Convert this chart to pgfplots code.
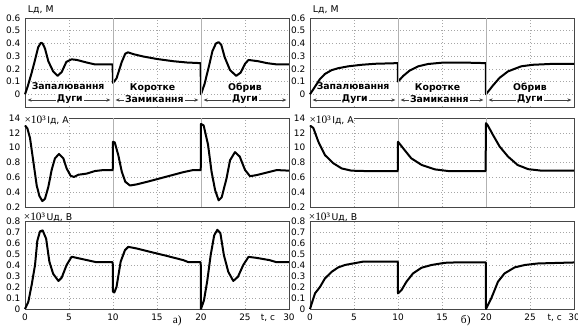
\documentclass[border=0pt]{standalone}
\usepackage{fontspec}
\setmainfont{DejaVu Sans}
\newfontfamily\serif{Liberation Serif}
\usepackage{pgfplots}
\pgfplotsset{compat=1.18}
\usetikzlibrary{arrows.meta}
\tikzset{
  curve/.style={black, line width=1.5pt, line join=round},
  sep/.style={gray!60, line width=0.5pt},
  arr/.style={{Stealth[length=3pt,width=2.6pt]}-{Stealth[length=3pt,width=2.6pt]}, gray!50!black, line width=0.6pt},
  lab/.style={font=\bfseries\fontsize{7}{8}\selectfont, inner sep=0.8pt},
}
\newcommand{\mult}{{\serif\fontsize{8.5}{9}\selectfont ×10³}}
\pgfplotsset{
  panel/.style={scale only axis, width=198pt, xmin=0, xmax=30, xtick={0,5,...,30},
    grid=major, major grid style={dotted, gray!70, line width=0.5pt},
    axis line style={gray!55!black, line width=0.5pt},
    tick style={draw=none},
    tick label style={font=\fontsize{6.7}{7}\selectfont},
    /pgf/number format/assume math mode=true,
    /pgf/number format/.cd, fixed, precision=1, /pgfplots/.cd,
    clip=false},
  row1/.style={panel, height=66.75pt, ymin=-0.1, ymax=0.6, ytick={0,0.1,...,0.6}, xticklabels={}},
  row2/.style={panel, height=66.75pt, ymin=0.2, ymax=1.4, ytick={0.2,0.4,0.6,0.8,1.0,1.2,1.4},
    yticklabels={0.2,0.4,0.6,0.8,10,12,14}, xticklabels={}},
  row3/.style={panel, height=66pt, ymin=0, ymax=0.8, ytick={0,0.1,...,0.8}},
}
\newcommand{\annot}{%
  \draw[sep] (axis cs:10,-0.1) -- (axis cs:10,0.6);
  \draw[sep] (axis cs:20,-0.1) -- (axis cs:20,0.6);
  \draw[arr] (axis cs:0.3,-0.045) -- (axis cs:9.7,-0.045);
  \draw[arr] (axis cs:10.3,-0.045) -- (axis cs:19.7,-0.045);
  \draw[arr] (axis cs:20.3,-0.045) -- (axis cs:29.7,-0.045);
  \node[lab] at (axis cs:4.9,0.065) {Запалювання};
  \node[lab, fill=white] at (axis cs:5.1,-0.04) {Дуги};
  \node[lab] at (axis cs:14.5,0.05) {Коротке};
  \node[lab, fill=white] at (axis cs:14.7,-0.04) {Замикання};
  \node[lab] at (axis cs:25,0.05) {Обрив};
  \node[lab, fill=white] at (axis cs:25,-0.04) {Дуги};
  \node[anchor=west, font=\fontsize{7}{8}\selectfont, inner sep=0pt] at ([xshift=2pt, yshift=6pt]rel axis cs:0,1) {Lд, М};
}
\begin{document}
\begin{tikzpicture}
\useasboundingbox (0,0) rectangle (433.5pt,243.75pt);
% Row 1 left
\begin{axis}[row1, at={(18.75pt,163.5pt)}, anchor=south west]
\addplot[curve] coordinates {(0,0) (0.3,0.06) (0.76,0.17) (1.14,0.27) (1.5,0.37) (1.8,0.405) (2.0,0.40) (2.27,0.36) (2.65,0.26) (3.2,0.18) (3.7,0.145) (4.17,0.175) (4.7,0.255) (5.3,0.275) (5.9,0.27) (7,0.25) (7.95,0.235) (9.95,0.235) (10,0.09) (10.4,0.125) (11,0.255) (11.4,0.32) (11.7,0.33) (12.3,0.316) (13.45,0.297) (14.96,0.278) (16.86,0.26) (18.4,0.25) (19.95,0.245) (20,0) (20.4,0.08) (20.9,0.22) (21.3,0.34) (21.7,0.40) (22.0,0.41) (22.3,0.39) (22.7,0.29) (23.3,0.19) (24.0,0.145) (24.5,0.17) (25.0,0.24) (25.4,0.27) (26.5,0.26) (27.5,0.245) (28.6,0.235) (30,0.235)};
\annot
\end{axis}
% Row 1 right
\begin{axis}[row1, at={(232.5pt,163.5pt)}, anchor=south west]
\addplot[curve] coordinates {(0,0) (0.57,0.06) (1.13,0.12) (1.7,0.16) (2.46,0.19) (3.2,0.205) (4.35,0.22) (5.86,0.232) (7.4,0.24) (9.98,0.245) (10,0.10) (10.6,0.145) (11.3,0.185) (12.3,0.22) (13.4,0.238) (14.9,0.248) (17.2,0.25) (19.98,0.245) (20,0) (20.8,0.07) (21.55,0.13) (22.5,0.18) (23.25,0.2) (24,0.22) (25.3,0.232) (27.8,0.24) (30,0.24)};
\annot
\end{axis}
% Row 2 left
\begin{axis}[row2, at={(18.75pt,88.5pt)}, anchor=south west]
\draw[sep] (axis cs:10,0.2) -- (axis cs:10,1.4);
\draw[sep] (axis cs:20,0.2) -- (axis cs:20,1.4);
\addplot[curve] coordinates {(0,1.3) (0.27,1.26) (0.57,1.13) (0.95,0.81) (1.33,0.49) (1.63,0.35) (1.97,0.28) (2.27,0.31) (2.65,0.47) (3.03,0.70) (3.4,0.855) (3.86,0.915) (4.36,0.855) (4.73,0.72) (5.19,0.62) (5.57,0.605) (6.06,0.635) (7,0.65) (7.95,0.685) (8.9,0.698) (9.97,0.698) (10,1.08) (10.2,1.07) (10.6,0.9) (11,0.675) (11.4,0.54) (11.93,0.49) (12.7,0.505) (14.2,0.55) (16.1,0.61) (18,0.67) (19.1,0.698) (19.97,0.698) (20,1.32) (20.3,1.3) (20.8,1.04) (21.2,0.675) (21.6,0.43) (22,0.29) (22.35,0.33) (22.9,0.585) (23.3,0.83) (23.86,0.94) (24.4,0.88) (25,0.70) (25.57,0.615) (26.3,0.63) (27.5,0.665) (28.6,0.698) (30,0.69)};
\node[anchor=west, fill=white, font=\fontsize{7}{8}\selectfont, inner sep=0.5pt] at ([xshift=-1pt, yshift=-1.5pt]rel axis cs:0,1) {\mult\,Iд, А};
\end{axis}
% Row 2 right
\begin{axis}[row2, at={(232.5pt,88.5pt)}, anchor=south west]
\draw[sep] (axis cs:10,0.2) -- (axis cs:10,1.4);
\draw[sep] (axis cs:20,0.2) -- (axis cs:20,1.4);
\addplot[curve] coordinates {(0,1.3) (0.38,1.265) (0.95,1.08) (1.7,0.9) (2.65,0.79) (3.6,0.72) (4.7,0.69) (6.2,0.685) (9.97,0.685) (10,1.08) (10.6,0.99) (11.5,0.857) (12.7,0.766) (14.2,0.707) (15.7,0.685) (19.95,0.685) (20,1.33) (20.2,1.3) (20.8,1.17) (21.55,1.015) (22.5,0.88) (23.6,0.766) (24.8,0.71) (26.3,0.69) (30,0.69)};
\node[anchor=west, fill=white, font=\fontsize{7}{8}\selectfont, inner sep=0.5pt] at ([xshift=-1pt, yshift=-1.5pt]rel axis cs:0,1) {\mult\,Iд, А};
\end{axis}
% Row 3 left
\begin{axis}[row3, at={(18.75pt,12pt)}, anchor=south west]
\addplot[curve] coordinates {(0,0) (0.38,0.066) (0.76,0.22) (1.14,0.40) (1.4,0.62) (1.7,0.705) (2,0.715) (2.4,0.64) (2.77,0.43) (3.2,0.32) (3.8,0.255) (4.17,0.285) (4.73,0.40) (5.3,0.475) (5.87,0.465) (7,0.445) (8.14,0.425) (9.97,0.425) (10,0.157) (10.15,0.15) (10.4,0.2) (10.87,0.43) (11.36,0.535) (11.74,0.565) (12.7,0.55) (14.2,0.52) (16.1,0.483) (18,0.444) (18.6,0.425) (19.97,0.425) (20,0) (20.34,0.08) (20.7,0.25) (21.1,0.49) (21.5,0.67) (21.86,0.72) (22.2,0.69) (22.6,0.49) (23.1,0.338) (23.67,0.255) (24.2,0.293) (24.8,0.40) (25.4,0.474) (26.3,0.465) (27.8,0.444) (28.6,0.425) (30,0.425)};
\node[anchor=west, font=\fontsize{7}{8}\selectfont, inner sep=0pt] at ([xshift=-1pt, yshift=3pt]rel axis cs:0,1) {\mult\,Uд, В};
\node[font=\fontsize{6.7}{7}\selectfont] at ([yshift=-7pt]axis cs:27.6,0) {t, с};
\node[font=\serif\fontsize{8.5}{9}\selectfont] at ([yshift=-9pt]axis cs:17.3,0) {а)};
\end{axis}
% Row 3 right
\begin{axis}[row3, at={(232.5pt,12pt)}, anchor=south west]
\addplot[curve] coordinates {(0,0) (0.26,0.066) (0.57,0.142) (1.13,0.2) (1.7,0.278) (2.46,0.338) (3.2,0.378) (3.97,0.40) (4.9,0.414) (6,0.43) (9.98,0.43) (10,0.142) (10.4,0.172) (10.96,0.248) (11.7,0.323) (12.67,0.375) (13.8,0.40) (15.3,0.42) (16.4,0.423) (19.98,0.423) (20,0) (20.6,0.097) (21.36,0.248) (22.1,0.323) (23.25,0.378) (24.4,0.40) (25.9,0.414) (30,0.423)};
\node[anchor=west, font=\fontsize{7}{8}\selectfont, inner sep=0pt] at ([xshift=-1pt, yshift=3pt]rel axis cs:0,1) {\mult\,Uд, В};
\node[font=\fontsize{6.7}{7}\selectfont] at ([yshift=-7pt]axis cs:27.8,0) {t, с};
\node[font=\serif\fontsize{8.5}{9}\selectfont] at ([yshift=-9pt]axis cs:17.7,0) {б)};
\end{axis}
\end{tikzpicture}
\end{document}
